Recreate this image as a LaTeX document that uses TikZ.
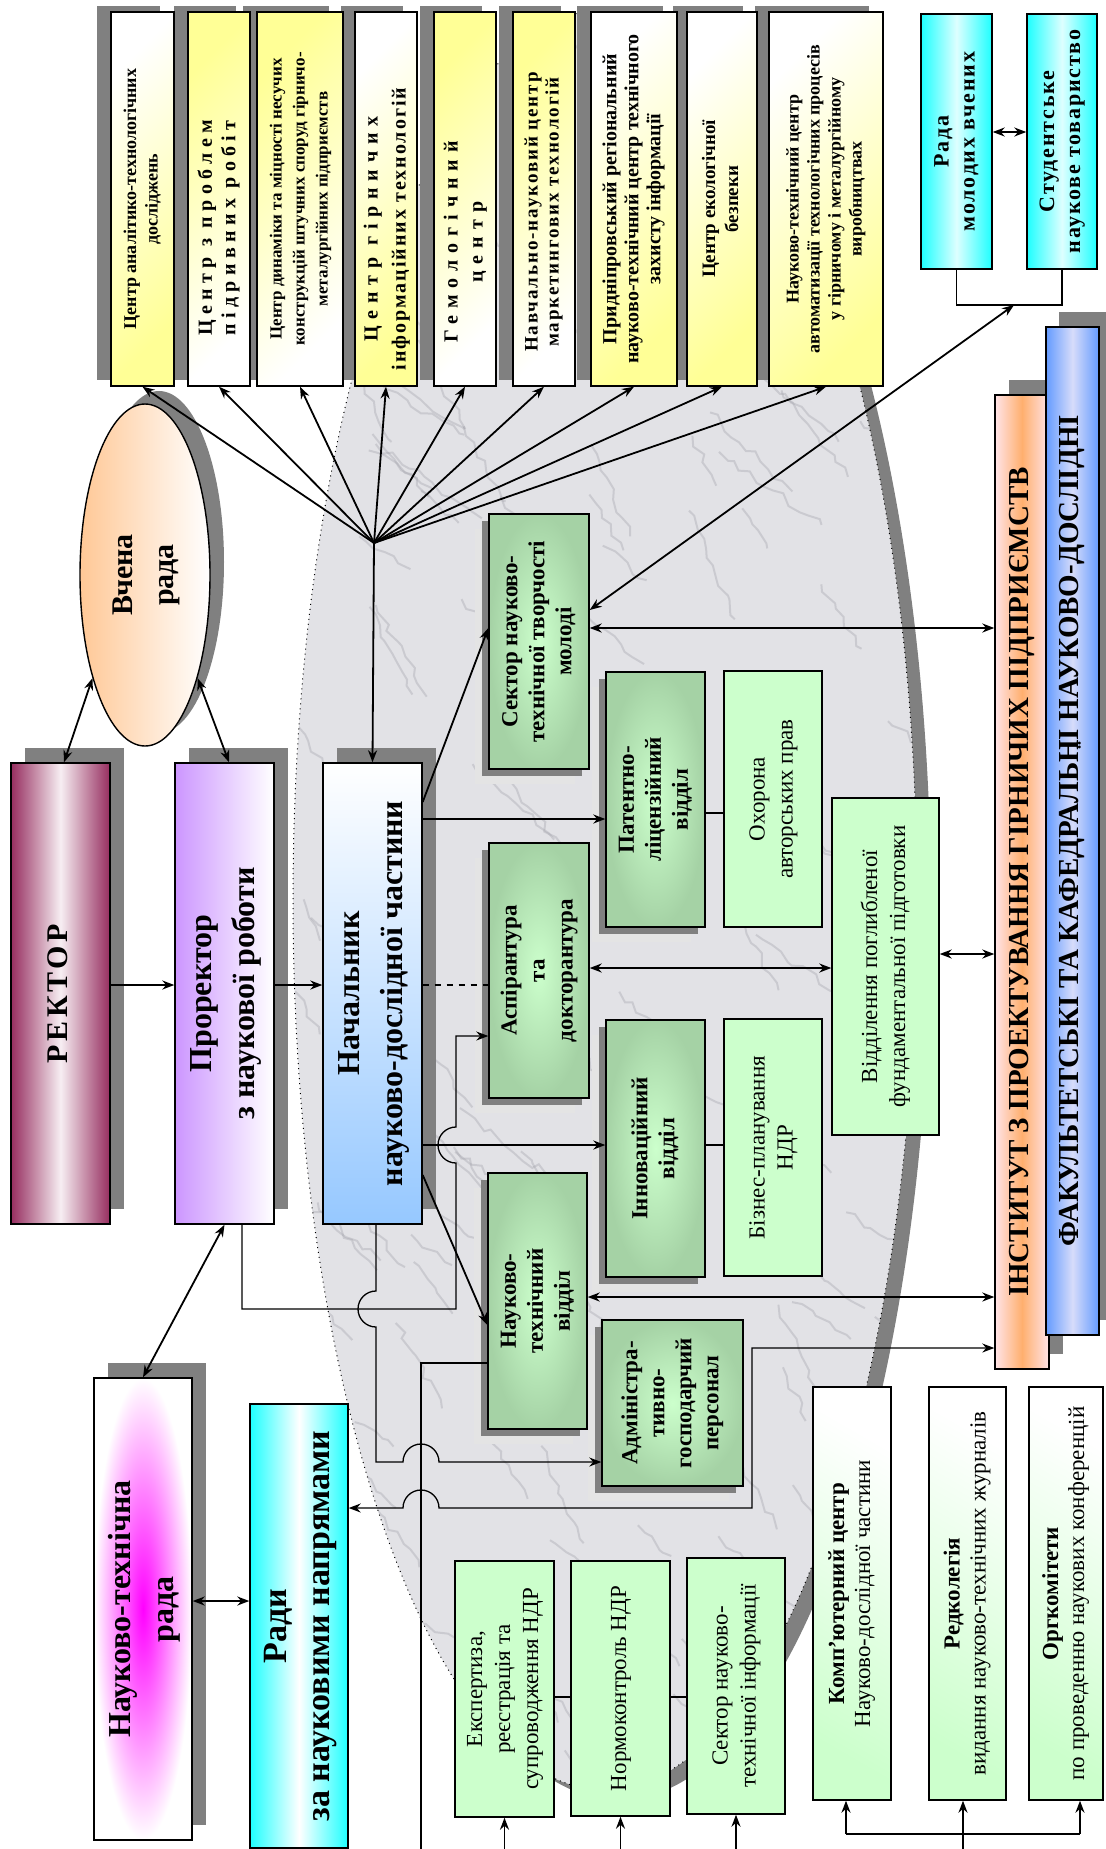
\documentclass[tikz,border=0pt]{standalone}
\usepackage{fontspec}
\setmainfont{Liberation Serif}
\usepackage{graphicx}
\usetikzlibrary{arrows.meta,shapes.geometric,decorations.pathmorphing}
\definecolor{shadowgray}{RGB}{128,128,128}
\definecolor{glow}{RGB}{228,228,228}
\definecolor{yel}{RGB}{255,255,150}
\definecolor{cyn}{RGB}{30,255,255}
\definecolor{lgreen}{RGB}{204,255,204}
\definecolor{mgreen}{RGB}{165,210,165}
\definecolor{rek}{RGB}{150,45,95}
\definecolor{lilac}{RGB}{204,150,255}
\definecolor{lblue}{RGB}{150,200,255}
\definecolor{peach}{RGB}{255,200,150}
\definecolor{pinkl}{RGB}{255,228,232}
\definecolor{orng}{RGB}{255,175,110}
\definecolor{bblue}{RGB}{100,155,255}
\definecolor{lav}{RGB}{215,220,250}
\definecolor{marble}{RGB}{226,226,230}
\definecolor{vein}{RGB}{160,160,168}
\newcommand\vt[2][0pt]{\rotatebox{90}{\begin{tabular}{@{}c@{}}#2\end{tabular}\hspace*{#1}}}
\newcommand\fs[3][0]{\fontsize{#2}{#3}\selectfont\addfontfeature{LetterSpace=#1}}
\newcommand\bx[7]{\node[inner sep=0pt, minimum width={(#4-#2)*0.5pt}, minimum height={(#5-#3)*0.5pt}, #6] (#1) at ({(#2+#4)/2},{(#3+#5)/2}) {#7};}
\newcommand\sh[6]{\fill[shadowgray] ({#1+#5},{#2+#6}) rectangle ({#3+#5},{#4+#6});}
\newcommand\gsh[4]{\fill[glow] ({#1-14},{#2+15}) rectangle ({#3-14},{#4+15});\fill[shadowgray] ({#1-7},{#2+7}) rectangle ({#3-7},{#4+7});}
\begin{document}
\begin{tikzpicture}[x=0.5pt,y=-0.5pt,
  base/.style={draw=black,line width=0.7pt},
  ybA/.style={base,top color=white,bottom color=yel,shading angle=45},
  ybB/.style={base,top color=yel,bottom color=white,shading angle=45},
  cybox/.style={base,left color=cyn,right color=cyn,middle color=cyn!15},
  rekbox/.style={base,left color=rek,right color=rek,middle color=rek!8},
  probox/.style={base,left color=lilac,right color=white},
  nachbox/.style={base,top color=white,bottom color=lblue},
  vrbox/.style={base,ellipse,left color=peach,right color=white},
  grbox/.style={base,inner color=lgreen,outer color=mgreen},
  lgbox/.style={base,fill=lgreen},
  kbox/.style={base,top color=white,bottom color=lgreen,shading angle=-30},
  instbox/.style={base,left color=pinkl,right color=pinkl,middle color=orng},
  facbox/.style={base,left color=bblue,right color=bblue,middle color=lav},
  ntrbox/.style={base,inner color=magenta,outer color=white},
  radibox/.style={base,left color=cyn,right color=cyn,middle color=white},
  ln/.style={line width=0.65pt},
  stl/.tip={Stealth[length=6pt,width=4.5pt]},
  arr/.style={line width=0.9pt,-stl},
  arr2/.style={line width=0.9pt,stl-stl},
]
\fill[white] (0,0) rectangle (1105,1849);
\useasboundingbox (0,0) rectangle (1105,1849);
% marble background
\fill[shadowgray] (619,910) ellipse [x radius=312, y radius=890];
\fill[marble] (605,900) ellipse [x radius=312, y radius=890];
\begin{scope}
\clip (605,900) ellipse [x radius=312, y radius=890];
\pgfmathsetseed{12}
\foreach \i in {1,...,170} {
  \pgfmathsetmacro\xa{280+rnd*650}
  \pgfmathsetmacro\ya{rnd*1800}
  \pgfmathsetmacro\an{30+rnd*40}
  \pgfmathsetmacro\le{40+rnd*90}
  \draw[vein, line width=1pt, opacity=0.35, decorate, decoration={random steps, segment length=5pt, amplitude=2pt}] (\xa,\ya) -- ++(\an:\le);
}
\end{scope}
\draw[dotted, line width=0.5pt] (605,900) ellipse [x radius=312, y radius=890];
% shadows
\fill[shadowgray] (159,562) ellipse [x radius=65, y radius=171];
\sh{111}{12}{174}{386}{-14}{-6}
\sh{188}{12}{250}{386}{-14}{-6}
\sh{257}{12}{343}{386}{-14}{-6}
\sh{355}{12}{417}{386}{-14}{-6}
\sh{434}{12}{496}{386}{-14}{-6}
\sh{513}{12}{575}{386}{-14}{-6}
\sh{591}{12}{677}{386}{-14}{-6}
\sh{687}{12}{757}{386}{-14}{-6}
\sh{769}{12}{883}{386}{-14}{-6}
\sh{11}{763}{110}{1224}{14}{-15}
\sh{175}{763}{274}{1224}{14}{-15}
\sh{323}{763}{422}{1224}{14}{-15}
\sh{94}{1378}{192}{1840}{14}{-15}
\sh{995}{395}{1049}{1369}{14}{-15}
\gsh{489}{514}{589}{769}
\gsh{606}{672}{705}{927}
\gsh{489}{843}{589}{1098}
\gsh{606}{1020}{705}{1277}
\gsh{488}{1173}{587}{1429}
\gsh{602}{1320}{743}{1486}
% top centres
\bx{t1}{111}{12}{174}{386}{ybA,font={\bfseries\fs{9}{10.8}}}{\vt{Центр аналітико-технологічних\\досліджень}}
\bx{t2}{188}{12}{250}{386}{ybB,font={\bfseries\fs[27]{10}{11.75}}}{\vt[29pt]{Центр з проблем\\підривних робіт}}
\bx{t3}{257}{12}{343}{386}{ybB,font={\bfseries\fs{8.5}{11.5}}}{\vt{Центр динаміки та міцності несучих\\конструкцій штучних споруд гірничо-\\металургійних підприємств}}
\bx{t4}{355}{12}{417}{386}{ybA,font={\bfseries\fs[10]{10}{14}}}{\vt[30pt]{{\addfontfeature{LetterSpace=34}Центр гірничих}\\інформаційних технологій}}
\bx{t5}{434}{12}{496}{386}{ybB,font={\bfseries\fs[35]{10}{12.5}}}{\vt[43pt]{Гемологічний\\центр}}
\bx{t6}{513}{12}{575}{386}{ybB,font={\bfseries\fs[10]{9.5}{10.5}}}{\vt[13pt]{Навчально-науковий центр\\маркетингових технологій}}
\bx{t7}{591}{12}{677}{386}{ybA,font={\bfseries\fs{10}{11}}}{\vt{Придніпровський регіональний\\науково-технічний центр технічного\\захисту інформації}}
\bx{t8}{687}{12}{757}{386}{ybA,font={\bfseries\fs{9.5}{11.5}}}{\vt{Центр екологічної\\безпеки}}
\bx{t9}{769}{12}{883}{386}{ybA,font={\bfseries\fs{9}{10.5}}}{\vt{Науково-технічний центр\\автоматизації технологічних процесів\\у гірничому і металургійному\\виробництвах}}
\bx{c1}{921}{14}{992}{269}{cybox,font={\bfseries\fs[8]{11}{13}}}{\vt{Рада\\молодих вчених}}
\bx{c2}{1027}{14}{1097}{269}{cybox,font={\bfseries\fs[8]{11}{13}}}{\vt{Студентське\\наукове товариство}}
% main chain
\node[vrbox, minimum width=65pt, minimum height=171pt, inner sep=0pt, font={\bfseries\fs{15}{20.5}}] (vr) at (145,575) {\vt{Вчена\\рада}};
\bx{rek}{11}{763}{110}{1224}{rekbox,font={\bfseries\fs[12]{15}{18}}}{\vt{РЕКТОР}}
\bx{pro}{175}{763}{274}{1224}{probox,font={\bfseries\fs{16}{21.5}}}{\vt{Проректор\\з наукової роботи}}
\bx{nach}{323}{763}{422}{1224}{nachbox,font={\bfseries\fs{16}{21.5}}}{\vt{Начальник\\науково-дослідної частини}}
% green units
\bx{sek}{489}{514}{589}{769}{grbox,font={\bfseries\fs{11.5}{13.5}}}{\vt{Сектор науково-\\технічної творчості\\молоді}}
\bx{pat}{606}{672}{705}{927}{grbox,font={\bfseries\fs{11.5}{13.5}}}{\vt{Патентно-\\ліцензійний\\відділ}}
\bx{ohr}{724}{671}{822}{927}{lgbox,font={\fs{11.5}{14}}}{\vt{Охорона\\авторських прав}}
\bx{asp}{489}{843}{589}{1098}{grbox,font={\bfseries\fs{11.5}{14}}}{\vt{Аспірантура\\та\\докторантура}}
\bx{vid}{832}{798}{939}{1135}{lgbox,font={\fs{11.5}{14}}}{\vt{Відділення поглибленої\\фундаментальної підготовки}}
\bx{inn}{606}{1020}{705}{1277}{grbox,font={\bfseries\fs{11.5}{13.5}}}{\vt{Інноваційний\\відділ}}
\bx{biz}{724}{1019}{822}{1276}{lgbox,font={\fs{11.5}{14}}}{\vt{Бізнес-планування\\НДР}}
\bx{ntv}{488}{1173}{587}{1429}{grbox,font={\bfseries\fs{11.5}{13.5}}}{\vt{Науково-\\технічний\\відділ}}
\bx{adm}{602}{1320}{743}{1486}{grbox,font={\bfseries\fs{11.5}{13.5}}}{\vt{Адміністра-\\тивно-\\господарчий\\персонал}}
% left lower
\bx{ntr}{94}{1378}{192}{1840}{ntrbox,font={\bfseries\fs{16}{21.5}}}{\vt{Науково-технічна\\рада}}
\bx{radi}{250}{1404}{348}{1848}{radibox,font={\bfseries\fs{17}{21.5}}}{\vt{Ради\\за науковими напрямами}}
% bottom
\bx{exp}{455}{1561}{554}{1817}{lgbox,font={\fs{11.5}{14}}}{\vt{Експертиза,\\реєстрація та\\супроводження НДР}}
\bx{norm}{571}{1561}{670}{1816}{lgbox,font={\fs{11.5}{14}}}{\vt{Нормоконтроль НДР}}
\bx{snti}{687}{1558}{785}{1814}{lgbox,font={\fs{11.5}{14}}}{\vt{Сектор науково-\\технічної інформації}}
\bx{komp}{813}{1387}{891}{1800}{kbox,font={\fs{11.5}{13}}}{\vt{\textbf{Комп’ютерний центр}\\Науково-дослідної частини}}
\bx{red}{929}{1387}{1006}{1800}{kbox,font={\fs{11.5}{13}}}{\vt{\textbf{Редколегія}\\видання науково-технічних журналів}}
\bx{org}{1029}{1387}{1103}{1800}{kbox,font={\fs{11.5}{13}}}{\vt{\textbf{Оргкомітети}\\по проведенню наукових конференцій}}
% right bars
\bx{inst}{995}{395}{1049}{1369}{instbox,font={\bfseries\fs{14.5}{16}}}{\vt{ІНСТИТУТ З ПРОЕКТУВАННЯ ГІРНИЧИХ ПІДПРИЄМСТВ}}
\sh{1046}{327}{1099}{1335}{13}{-15}
\bx{fac}{1046}{327}{1099}{1335}{facbox,font={\bfseries\fs{14.5}{16}}}{\vt{ФАКУЛЬТЕТСЬКІ ТА КАФЕДРАЛЬНІ НАУКОВО-ДОСЛІДНІ}}
\node[rotate=90, inner sep=0pt, font={\bfseries\fs{12}{12}}] (dd) at (1086,745) {¨};
% connectors
\draw[arr] (110,985) -- (pro.west |- 0,985);
\draw[arr] (pro.east |- 0,985) -- (nach.west |- 0,985);
\draw[ln,dashed] (nach.east |- 0,985) -- (asp.west |- 0,985);
\draw[arr2] ([xshift=1.75pt]rek.north) -- (vr.243);
\draw[arr2] ([xshift=2.25pt]pro.north) -- (vr.297);
\coordinate (fan) at (374,543);
\draw[arr] (fan) -- (nach.north);
\foreach \t in {t1,t2,t3,t4,t5,t6,t7,t8,t9} {\draw[arr] (fan) -- (\t.south);}
\draw[arr2] (c1.east |- 0,132) -- (c2.west |- 0,132);
\draw[ln] (c1.south) -- (c1.south |- 0,305) -| (c2.south);
\coordinate (brk) at (1014,305);
\draw[arr2] (sek.east |- 0,610) -- (brk);
\draw[arr2] (sek.east |- 0,628) -- (inst.west |- 0,628);
\draw[arr] (nach.east |- 0,802) -- (sek.west |- 0,628);
\draw[arr] (nach.east |- 0,819) -- (pat.west |- 0,819);
\draw[ln] (pat.east |- 0,813) -- (ohr.west |- 0,813);
\draw[arr2] (asp.east |- 0,968) -- (vid.west |- 0,968);
\draw[arr2] (vid.east |- 0,954) -- (inst.west |- 0,954);
\draw[arr] (nach.east |- 0,1145) -- (inn.west |- 0,1145);
\draw[ln] (inn.east |- 0,1145) -- (biz.west |- 0,1145);
\draw[arr] (nach.east |- 0,1175) -- (ntv.west |- 0,1325);
\draw[arr2] (ntv.east |- 0,1297) -- (inst.west |- 0,1297);
\draw[ln,-stl] (242,0 |- pro.south) -- (242,1309) -- (456,1309) -- (456,1163) arc[start angle=90,end angle=270,radius=18] -- (456,1036) -- (asp.west |- 0,1036);
\draw[ln,-stl] (376,0 |- nach.south) -- (376,1291) arc[start angle=270,end angle=90,radius=18] -- (376,1462) -- (403,1462) arc[start angle=180,end angle=360,radius=18] -- (adm.west |- 0,1462);
\draw[ln] (ntv.west |- 0,1363) -- (421,1363) -- (421,1856);
\draw[ln,stl-stl] (inst.west |- 0,1348) -- (752,1348) -- (752,1508) -- (439,1508) arc[start angle=0,end angle=-180,radius=18] -- (radi.east |- 0,1508);
\draw[arr2] (pro.south) -- (ntr.north);
\draw[arr2] (ntr.east |- 0,1601) -- (radi.west |- 0,1601);
\draw[ln] (exp.east |- 0,1697) -- (norm.west |- 0,1697);
\draw[ln] (norm.east |- 0,1697) -- (snti.west |- 0,1697);
\coordinate (f1) at (504.5,1856);
\coordinate (f2) at (620.5,1856);
\coordinate (f3) at (736,1856);
\coordinate (f4) at (963,1856);
\coordinate (bl) at (846,1834);
\coordinate (br) at (1080,1834);
\draw[arr] (f1) -- (f1 |- exp.south);
\draw[arr] (f2) -- (f2 |- norm.south);
\draw[arr] (f3) -- (f3 |- snti.south);
\draw[arr] (f4) -- (f4 |- red.south);
\draw[ln] (bl) -- (br);
\draw[arr] (bl) -- (bl |- komp.south);
\draw[arr] (br) -- (br |- org.south);
\end{tikzpicture}
\end{document}
